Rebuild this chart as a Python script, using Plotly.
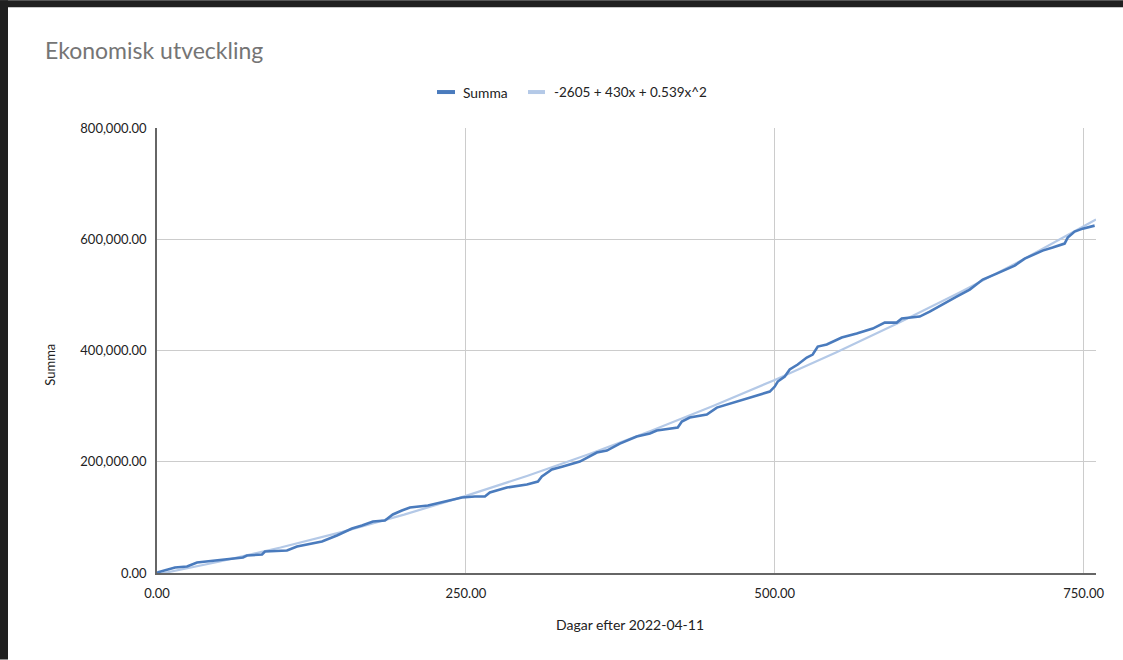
import plotly.graph_objects as go

# ---- data ----
dagar = [0, 1, 14.6, 24.3, 32.4, 52.6, 69.6, 72.8, 85.0, 87.4, 105.2, 113.3, 125.4, 133.5,
         145.6, 157.8, 165.9, 174.8, 184.5, 190.9, 198.2, 204.7, 219.3, 233.0, 246.8, 257.3,
         265.4, 269.4, 283.2, 299.4, 308.3, 311.5, 319.6, 328.5, 342.2, 356.0, 364.1, 374.6,
         380.3, 388.3, 398.9, 404.5, 421.5, 424.8, 431.2, 445.0, 453.1, 466.0, 479.8, 496.0,
         500.0, 502.4, 508.1, 512.1, 518.6, 525.9, 530.7, 534.8, 542.1, 554.2, 566.3, 579.3,
         589.0, 598.7, 602.8, 617.3, 625.4, 639.2, 647.2, 657.8, 668.3, 679.6, 694.2, 702.3,
         716.8, 724.9, 734.6, 737.1, 742.7, 749.2, 758.9]
summa = [0, 1500, 9900, 11700, 18900, 24300, 27900, 31400, 33200, 38600, 40400, 47600, 53000,
         56600, 67400, 80000, 85400, 92600, 94400, 105200, 112300, 117700, 121300, 128500,
         135700, 137500, 137500, 144700, 153700, 159000, 164400, 173400, 186000, 191400,
         200400, 216500, 220100, 232700, 238100, 245300, 250700, 256100, 261500, 272300,
         279500, 284900, 297400, 306400, 315400, 326200, 335200, 344200, 353200, 365800,
         374800, 387300, 392700, 407100, 410700, 423300, 430500, 439400, 450200, 450200,
         457400, 461000, 469900, 486100, 496900, 509500, 527500, 538300, 552600, 565200,
         579600, 585000, 592200, 602900, 613700, 619100, 624500]

trend_dagar = [0, 50, 100, 150, 200, 250, 300, 350, 400, 450, 500, 550, 600, 650, 700, 760]
trend_varden = [-2605, 20242, 45785, 74023, 104955, 138583, 174905, 213923, 255635, 300043,
                347145, 396943, 449435, 504623, 562505, 635521]

titel = "Ekonomisk utveckling"
serie_namn = "Summa"
trend_namn = "-2605 + 430x + 0.539x^2"
x_titel = "Dagar efter 2022-04-11"
y_titel = "Summa"
x_ticks = [0, 250, 500, 750]
y_ticks = [0, 200000, 400000, 600000, 800000]

# ---- styling ----
W, H = 1123, 660
L, R, T, B = 157, 1096, 128, 573.5
FONT = "Lato"
C_SUMMA = "#4a7bbd"
C_TREND = "#b4c9e7"


def px_x(px):
    return (px - L) / (R - L)


def px_y(py):
    return (B - py) / (B - T)


fig = go.Figure()
fig.add_trace(go.Scatter(x=trend_dagar, y=trend_varden, mode="lines", name=trend_namn,
                         line=dict(color=C_TREND, width=2.2), showlegend=False))
fig.add_trace(go.Scatter(x=dagar, y=summa, mode="lines", name=serie_namn,
                         line=dict(color=C_SUMMA, width=2.6), showlegend=False))

shapes = [
    # dark screenshot border (top and left)
    dict(type="rect", xref="paper", yref="paper", x0=px_x(0), x1=px_x(W), y0=px_y(7), y1=px_y(0),
         fillcolor="#202020", line=dict(width=0), layer="above"),
    dict(type="rect", xref="paper", yref="paper", x0=px_x(0), x1=px_x(8), y0=px_y(H), y1=px_y(0),
         fillcolor="#202020", line=dict(width=0), layer="above"),
    # legend symbols
    dict(type="line", xref="paper", yref="paper", x0=px_x(437), x1=px_x(455), y0=px_y(92), y1=px_y(92),
         line=dict(color=C_SUMMA, width=4)),
    dict(type="line", xref="paper", yref="paper", x0=px_x(528), x1=px_x(545), y0=px_y(92), y1=px_y(92),
         line=dict(color=C_TREND, width=4)),
]

annotations = [
    dict(text=titel, xref="paper", yref="paper", x=px_x(43), y=px_y(50), xanchor="left", yanchor="middle",
         showarrow=False, font=dict(family=FONT, size=23, color="#757575")),
    dict(text=serie_namn, xref="paper", yref="paper", x=px_x(461), y=px_y(92), xanchor="left", yanchor="middle",
         showarrow=False, font=dict(family=FONT, size=13.8, color="#222222")),
    dict(text=trend_namn, xref="paper", yref="paper", x=px_x(552), y=px_y(92), xanchor="left", yanchor="middle",
         showarrow=False, font=dict(family=FONT, size=13.5, color="#222222")),
    dict(text=x_titel, xref="paper", yref="paper", x=px_x(630), y=px_y(625), xanchor="center", yanchor="middle",
         showarrow=False, font=dict(family=FONT, size=14, color="#222222")),
    dict(text=y_titel, xref="paper", yref="paper", x=px_x(50), y=px_y(365), xanchor="center", yanchor="middle",
         textangle=-90, showarrow=False, font=dict(family=FONT, size=13, color="#222222")),
]

fig.update_layout(
    width=W, height=H,
    margin=dict(l=L, r=W - R, t=T, b=H - B, pad=0),
    paper_bgcolor="white", plot_bgcolor="white",
    font=dict(family=FONT, size=13, color="#222222"),
    showlegend=False,
    shapes=shapes,
    annotations=annotations,
)
fig.update_xaxes(range=[0, 760], tickvals=x_ticks, tickformat=",.2f", showgrid=True,
                 gridcolor="#cccccc", gridwidth=1, zeroline=False, showline=True,
                 linecolor="#666666", linewidth=1.5, ticks="", ticklabelstandoff=8,
                 tickfont=dict(family=FONT, size=13, color="#222222"))
fig.update_yaxes(range=[0, 800000], tickvals=y_ticks, tickformat=",.2f", showgrid=True,
                 gridcolor="#cccccc", gridwidth=1, zeroline=False, showline=True,
                 linecolor="#666666", linewidth=1.5, ticks="", ticklabelstandoff=6,
                 tickfont=dict(family=FONT, size=13, color="#222222"))

fig.write_html("out.html")
